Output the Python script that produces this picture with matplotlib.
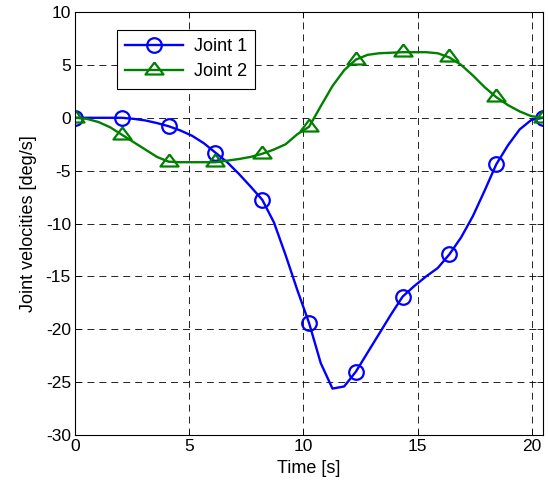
import numpy as np
import matplotlib
matplotlib.use("Agg")
import matplotlib.pyplot as plt

plt.rcParams["font.family"] = ["Liberation Sans", "DejaVu Sans"]
plt.rcParams["lines.scale_dashes"] = False
plt.rcParams["axes.unicode_minus"] = False

# time samples (s), markers every 4th sample
t = [0.0, 0.5125, 1.025, 1.5375, 2.05, 2.5625, 3.075, 3.5875, 4.1, 4.6125,
     5.125, 5.6375, 6.15, 6.6625, 7.175, 7.6875, 8.2, 8.7125, 9.225, 9.7375,
     10.25, 10.7625, 11.275, 11.7875, 12.3, 12.8125, 13.325, 13.8375, 14.35, 14.8625,
     15.375, 15.8875, 16.4, 16.9125, 17.425, 17.9375, 18.45, 18.9625, 19.475, 19.9875,
     20.5]

# joint 1 velocity (deg/s)
joint1 = [0.0, 0.0, 0.0, 0.0, 0.0, -0.1, -0.25, -0.5, -0.8, -1.2,
          -1.7, -2.4, -3.3, -4.2, -5.3, -6.5, -7.75, -9.9, -13.0, -16.3,
          -19.4, -23.2, -25.6, -25.4, -24.0, -22.2, -20.4, -18.6, -16.9, -15.9,
          -15.0, -14.2, -12.9, -11.3, -9.3, -6.9, -4.4, -2.6, -1.1, -0.2,
          0.0]

# joint 2 velocity (deg/s)
joint2 = [0.0, -0.1, -0.4, -0.9, -1.6, -2.3, -3.0, -3.7, -4.15, -4.2,
          -4.2, -4.2, -4.2, -4.05, -3.9, -3.7, -3.4, -3.0, -2.5, -1.55,
          -0.85, 1.1, 3.0, 4.5, 5.5, 5.95, 6.1, 6.15, 6.2, 6.2,
          6.2, 6.1, 5.7, 5.0, 4.0, 2.9, 1.95, 1.2, 0.6, 0.15,
          0.0]

# MATLAB-style triangle: data point sits at the centroid
tri = [(0, 0.667), (-0.75, -0.333), (0.75, -0.333), (0, 0.667)]

fig = plt.figure(figsize=(5.48, 4.90), dpi=100)
ax = fig.add_axes([0.137, 0.112, 0.854, 0.8635])

ax.plot(t, joint1, color="#0000ff", lw=1.7, marker="o", markersize=10.5,
        markerfacecolor="none", markeredgewidth=1.6, markevery=4, label="Joint 1")
ax.plot(t, joint2, color="#008000", lw=1.7, marker=tri, markersize=13,
        markerfacecolor="none", markeredgewidth=1.6, markevery=4, label="Joint 2")

ax.set_xlim(0, 20.5)
ax.set_ylim(-30, 10)
ax.set_xticks([0, 5, 10, 15, 20])
ax.set_yticks(np.arange(-30, 11, 5))
ax.grid(True, color="k", lw=0.6, linestyle=(0, (5, 3.6)))
ax.tick_params(direction="in", top=True, right=True, length=4, width=0.6,
               labelsize=12.5, pad=3)
for s in ax.spines.values():
    s.set_linewidth(0.8)

ax.set_xlabel("Time [s]", fontsize=13, labelpad=4)
ax.set_ylabel("Joint velocities [deg/s]", fontsize=13, labelpad=6)

leg = ax.legend(loc="upper left", bbox_to_anchor=(0.09, 0.957), fontsize=13,
                handlelength=3.2, handletextpad=0.6, borderaxespad=0,
                fancybox=False, framealpha=1, edgecolor="k", borderpad=0.45,
                labelspacing=0.45)
leg.get_frame().set_linewidth(0.8)

fig.savefig("out.png", dpi=100)
